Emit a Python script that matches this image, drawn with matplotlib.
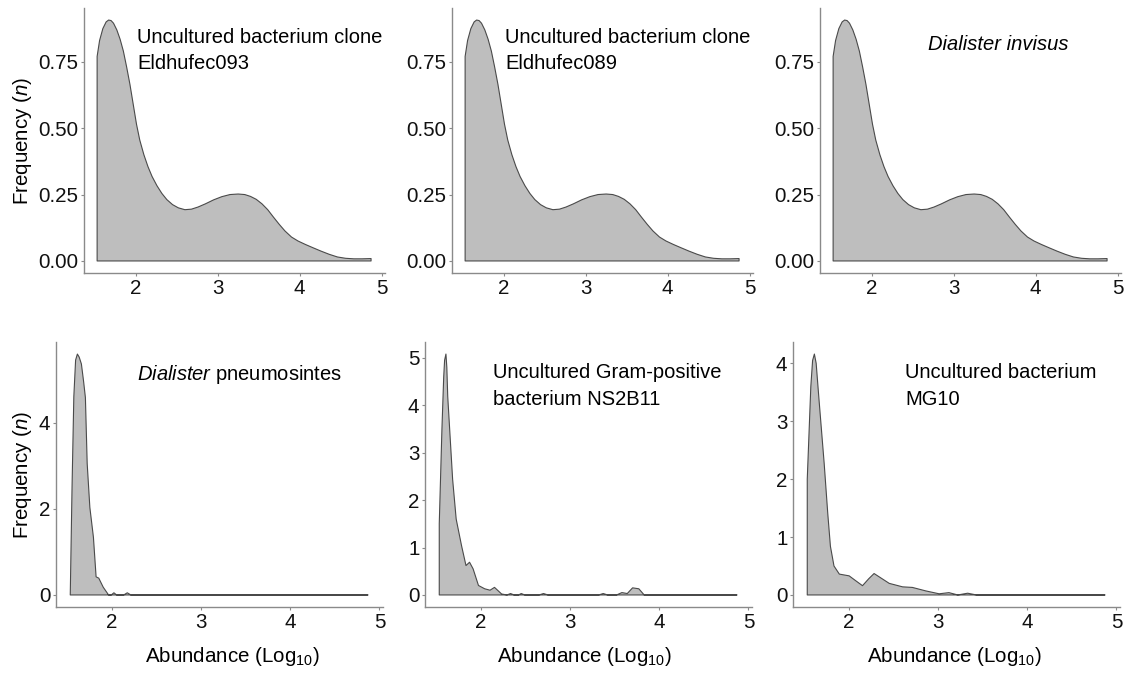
import numpy as np
import matplotlib
matplotlib.use('Agg')
import matplotlib.pyplot as plt

plt.rcParams['font.family'] = ['Liberation Sans', 'DejaVu Sans']
plt.rcParams['mathtext.fontset'] = 'custom'
plt.rcParams['mathtext.rm'] = 'Liberation Sans'
plt.rcParams['mathtext.it'] = 'Liberation Sans:italic'

# curva compartida por los tres paneles de arriba
top_x = [1.53, 1.56, 1.60, 1.64, 1.67, 1.70, 1.73, 1.77, 1.81, 1.85, 1.89, 1.93,
         1.97, 2.01, 2.05, 2.10, 2.15, 2.20, 2.26, 2.32, 2.38, 2.45, 2.52, 2.60,
         2.68, 2.76, 2.85, 2.95, 3.05, 3.15, 3.25, 3.33, 3.40, 3.47, 3.54, 3.61,
         3.68, 3.75, 3.82, 3.90, 3.98, 4.07, 4.16, 4.26, 4.36, 4.46, 4.56, 4.66,
         4.76, 4.87]
top_y = [0.77, 0.83, 0.875, 0.90, 0.907, 0.905, 0.895, 0.87, 0.835, 0.79, 0.73, 0.665,
         0.59, 0.515, 0.455, 0.40, 0.355, 0.318, 0.283, 0.254, 0.231, 0.212, 0.200, 0.193,
         0.195, 0.203, 0.215, 0.23, 0.242, 0.25, 0.252, 0.25, 0.243, 0.232, 0.215, 0.193,
         0.165, 0.138, 0.113, 0.09, 0.075, 0.062, 0.05, 0.037, 0.025, 0.015, 0.01, 0.008,
         0.008, 0.009]

pneumo_x = [1.53, 1.55, 1.57, 1.59, 1.61, 1.63, 1.655, 1.68, 1.70, 1.72, 1.75, 1.79,
            1.82, 1.85, 1.90, 1.96, 1.99, 2.02, 2.05, 2.13, 2.17, 2.21, 2.30, 4.87]
pneumo_y = [0.0, 2.5, 4.6, 5.45, 5.59, 5.52, 5.36, 4.95, 4.58, 3.05, 2.03, 1.34,
            0.42, 0.39, 0.18, 0.0, 0.0, 0.05, 0.0, 0.0, 0.05, 0.0, 0.0, 0.0]

ns2b11_x = [1.53, 1.56, 1.58, 1.59, 1.605, 1.615, 1.625, 1.68, 1.72, 1.78, 1.83, 1.87,
            1.91, 1.97, 2.04, 2.10, 2.15, 2.23, 2.29, 2.33, 2.37, 2.42, 2.45, 2.49,
            2.65, 2.70, 2.75, 3.32, 3.37, 3.42, 3.52, 3.58, 3.64, 3.70, 3.77, 3.83,
            3.90, 4.87]
ns2b11_y = [1.5, 3.5, 4.6, 4.95, 5.08, 4.8, 4.19, 2.44, 1.6, 1.04, 0.62, 0.69,
            0.55, 0.2, 0.13, 0.1, 0.16, 0.02, 0.0, 0.03, 0.0, 0.0, 0.03, 0.0,
            0.0, 0.03, 0.0, 0.0, 0.03, 0.0, 0.0, 0.05, 0.03, 0.15, 0.13, 0.0,
            0.0, 0.0]

mg10_x = [1.53, 1.57, 1.59, 1.61, 1.63, 1.66, 1.72, 1.76, 1.79, 1.83, 1.89, 2.00,
          2.07, 2.15, 2.22, 2.28, 2.36, 2.45, 2.60, 2.71, 2.86, 3.01, 3.12, 3.22,
          3.33, 3.43, 4.87]
mg10_y = [2.0, 3.6, 4.05, 4.16, 4.0, 3.41, 2.27, 1.41, 0.84, 0.50, 0.36, 0.33,
          0.25, 0.16, 0.28, 0.37, 0.29, 0.20, 0.14, 0.13, 0.07, 0.02, 0.04, 0.0,
          0.03, 0.0, 0.0]

titulos = ['Uncultured bacterium clone\nEldhufec093',
           'Uncultured bacterium clone\nEldhufec089',
           'Dialister invisus',
           '$\\it{Dialister}$ pneumosintes',
           'Uncultured Gram-positive\nbacterium NS2B11',
           'Uncultured bacterium\nMG10']

curvas = [(top_x, top_y), (top_x, top_y), (top_x, top_y),
          (pneumo_x, pneumo_y), (ns2b11_x, ns2b11_y), (mg10_x, mg10_y)]

# posiciones en pixeles (izq, arriba, ancho) medidas sobre la figura
W, H = 1126, 675
cajas = [(84, 8, 301), (452, 8, 301), (820, 8, 301),
         (56, 342, 327), (425, 342, 327), (793, 342, 327)]
alto = 265

yticks = [[0, 0.25, 0.5, 0.75]] * 3 + [[0, 2, 4], [0, 1, 2, 3, 4, 5], [0, 1, 2, 3, 4]]
texto_pos = [(2.02, 0.925), (2.02, 0.925), (2.69, 0.90),
             (2.28, 0.92), (2.13, 0.92), (2.63, 0.92)]

fig = plt.figure(figsize=(W / 100, H / 100), dpi=100)

for i in range(6):
    x0, y0, ancho = cajas[i]
    ax = fig.add_axes([x0 / W, (H - y0 - alto) / H, ancho / W, alto / H])
    x = np.array(curvas[i][0])
    y = np.array(curvas[i][1])
    ax.fill(np.r_[x[0], x, x[-1]], np.r_[0, y, 0], facecolor='#bebebe',
            edgecolor='#4a4a4a', linewidth=0.8, joinstyle='round')
    ymax = y.max()
    ax.set_ylim(-0.05 * ymax, 1.05 * ymax)
    ax.set_xlim(1.37, 5.04)
    ax.set_xticks([2, 3, 4, 5])
    ax.set_yticks(yticks[i])
    if i < 3:
        ax.set_yticklabels(['%.2f' % v for v in yticks[i]])
    for lado in ['top', 'right']:
        ax.spines[lado].set_visible(False)
    for lado in ['left', 'bottom']:
        ax.spines[lado].set_color('#8a8a8a')
        ax.spines[lado].set_linewidth(1)
    ax.tick_params(length=2.5, width=0.8, color='#8a8a8a', labelsize=14.8,
                   labelcolor='#111111', pad=1.5)
    estilo = 'italic' if i == 2 else 'normal'
    ax.text(texto_pos[i][0], texto_pos[i][1], titulos[i], transform=ax.get_xaxis_transform(),
            ha='left', va='top', fontsize=14.5, style=estilo, linespacing=1.5)

# etiquetas de ejes
for yc in [140.5, 474.5]:
    fig.text(22 / W, 1 - yc / H, 'Frequency ($\\it{n}$)', rotation=90, ha='center',
             va='center', fontsize=14.8)
for xc in [232, 584, 954]:
    fig.text(xc / W, (H - 662) / H, 'Abundance (Log$_{10}$)', ha='center',
             va='baseline', fontsize=14.8)

plt.savefig('out.png', dpi=100)
